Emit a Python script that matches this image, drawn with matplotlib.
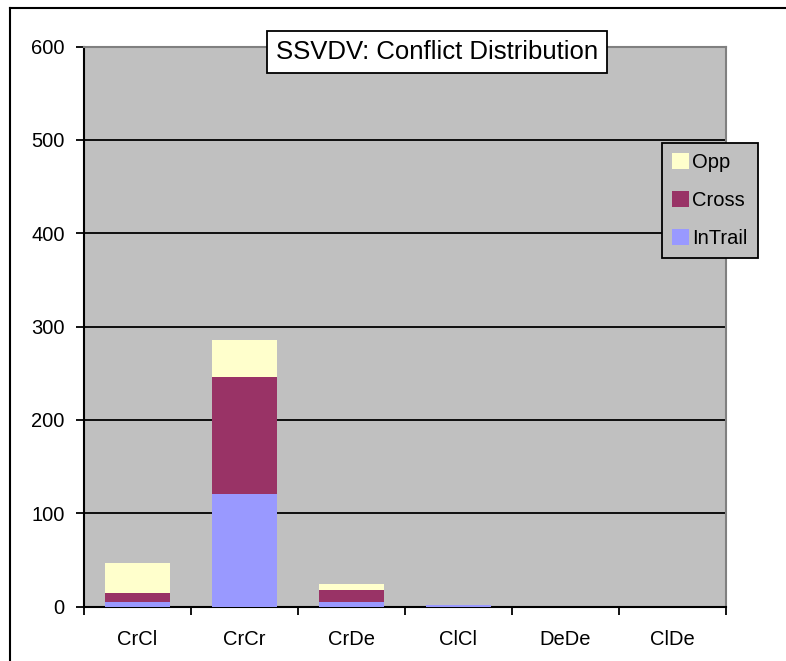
import matplotlib
matplotlib.use('Agg')
import matplotlib.pyplot as plt
from matplotlib.lines import Line2D
from matplotlib.patches import Patch
import numpy as np

plt.rcParams['font.family'] = ['Liberation Sans', 'DejaVu Sans']

categories = ['CrCl', 'CrCr', 'CrDe', 'ClCl', 'DeDe', 'ClDe']
intrail = [5, 121, 5, 2, 0, 0]
cross = [9, 125, 13, 0, 0, 0]
opp = [33, 40, 6, 0, 0, 0]

c_intrail = '#9999FF'
c_cross = '#993366'
c_opp = '#FFFFCC'

fig = plt.figure(figsize=(7.86, 6.61), dpi=100)
ax = fig.add_axes([84 / 786, 1 - 606.5 / 661, 642 / 786, 560 / 661])
ax.set_facecolor('#C0C0C0')

x = np.arange(len(categories))
w = 0.6
ax.bar(x, intrail, w, color=c_intrail, zorder=3)
ax.bar(x, cross, w, bottom=intrail, color=c_cross, zorder=3)
bottom2 = np.array(intrail) + np.array(cross)
ax.bar(x, opp, w, bottom=bottom2, color=c_opp, zorder=3)

ax.set_ylim(0, 600)
ax.set_xlim(-0.5, len(categories) - 0.5)
ax.set_yticks(range(0, 601, 100))
ax.yaxis.grid(True, color='black', linewidth=1.3, zorder=1)
ax.set_axisbelow(True)

ax.set_xticks(x)
ax.set_xticklabels(categories, fontsize=14.5)
ax.set_xticks(np.arange(-0.5, len(categories)), minor=True)
ax.tick_params(axis='x', which='major', length=0, pad=17)
ax.tick_params(axis='x', which='minor', length=6, width=1.3, direction='out')
ax.tick_params(axis='y', length=6, width=1.3, labelsize=14.5, pad=8)

for s in ['left', 'bottom']:
    ax.spines[s].set_color('black')
    ax.spines[s].set_linewidth(1.5)
for s in ['top', 'right']:
    ax.spines[s].set_color('#808080')
    ax.spines[s].set_linewidth(1.5)

# title box
fig.text(437 / 786, 1 - 52 / 661, 'SSVDV: Conflict Distribution', fontsize=18.5,
         ha='center', va='center',
         bbox=dict(boxstyle='square,pad=0.35', fc='white', ec='black', lw=1.3))

handles = [Patch(facecolor=c_opp, label='Opp'),
           Patch(facecolor=c_cross, label='Cross'),
           Patch(facecolor=c_intrail, label='InTrail')]
leg = fig.legend(handles=handles, loc='upper left',
                 bbox_to_anchor=(662 / 786, 1 - 143 / 661), borderaxespad=0,
                 fontsize=14.5, frameon=True, fancybox=False,
                 handlelength=0.85, handleheight=0.85, handletextpad=0.15,
                 labelspacing=0.95, borderpad=0.5)
leg.get_frame().set_facecolor('#C0C0C0')
leg.get_frame().set_edgecolor('black')
leg.get_frame().set_linewidth(1.3)
leg.get_frame().set_alpha(1)

# outer chart frame (top and left visible)
fig.add_artist(Line2D([10 / 786, 10 / 786], [0, 1 - 8 / 661], color='black', lw=1.5))
fig.add_artist(Line2D([10 / 786, 1], [1 - 8 / 661, 1 - 8 / 661], color='black', lw=1.5))

fig.savefig('out.png', dpi=100)
